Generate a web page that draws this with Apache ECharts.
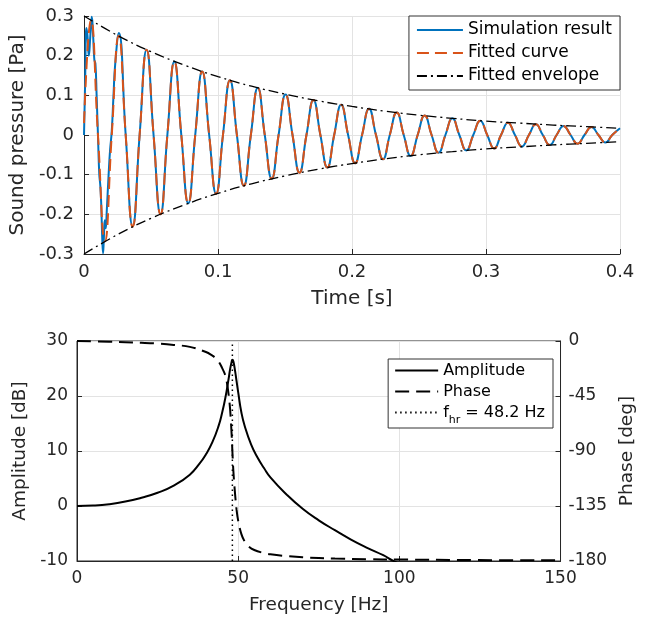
<!DOCTYPE html>
<html><head><meta charset="utf-8">
<script src="https://cdn.jsdelivr.net/npm/echarts@6/dist/echarts.min.js"></script>
<style>html,body{margin:0;padding:0;background:#fff}#c{width:645px;height:617px}</style>
</head><body><div id="c"></div>
<script>
// ---------- Top plot: time signal ----------
const timeTicks = [0, 0.1, 0.2, 0.3, 0.4];
const pressureTicks = [-0.3, -0.2, -0.1, 0, 0.1, 0.2, 0.3];

// Fitted curve: peaks, zero crossings, troughs
const fitTime = [0, 0.0052, 0.0104, 0.0156, 0.0207, 0.0259, 0.0311, 0.0363, 0.0415, 0.0467,
  0.0519, 0.0571, 0.0622, 0.0674, 0.0726, 0.0778, 0.0830, 0.0882, 0.0934, 0.0986,
  0.1037, 0.1089, 0.1141, 0.1193, 0.1245, 0.1297, 0.1349, 0.1401, 0.1452, 0.1504,
  0.1556, 0.1608, 0.1660, 0.1712, 0.1764, 0.1816, 0.1867, 0.1919, 0.1971, 0.2023,
  0.2075, 0.2127, 0.2179, 0.2231, 0.2282, 0.2334, 0.2386, 0.2438, 0.2490, 0.2542,
  0.2594, 0.2646, 0.2697, 0.2749, 0.2801, 0.2853, 0.2905, 0.2957, 0.3009, 0.3061,
  0.3112, 0.3164, 0.3216, 0.3268, 0.3320, 0.3372, 0.3424, 0.3476, 0.3527, 0.3579,
  0.3631, 0.3683, 0.3735, 0.3787, 0.3839, 0.3891, 0.3942, 0.4000];
const fitValues = [0.03, 0.289, 0, -0.268, 0, 0.250, 0, -0.231, 0, 0.215,
  0, -0.200, 0, 0.185, 0, -0.172, 0, 0.160, 0, -0.148,
  0, 0.138, 0, -0.128, 0, 0.119, 0, -0.110, 0, 0.102,
  0, -0.095, 0, 0.088, 0, -0.082, 0, 0.076, 0, -0.071,
  0, 0.066, 0, -0.061, 0, 0.057, 0, -0.053, 0, 0.049,
  0, -0.045, 0, 0.042, 0, -0.039, 0, 0.036, 0, -0.034,
  0, 0.031, 0, -0.029, 0, 0.027, 0, -0.025, 0, 0.023,
  0, -0.022, 0, 0.020, 0, -0.019, 0, 0.017];

// Simulation: irregular start, then coincides with the fitted curve (from fitTime index 6)
const simEarlyTime = [0, 0.0008, 0.0018, 0.0026, 0.0036, 0.0047, 0.0058, 0.0068, 0.0077, 0.0085,
  0.0094, 0.0104, 0.0114, 0.0121, 0.0128, 0.0136, 0.0142, 0.0148, 0.0155, 0.0162,
  0.0170, 0.0182, 0.0194, 0.0207, 0.0220, 0.0233, 0.0260];
const simEarlyValues = [0, 0.13, 0.27, 0.25, 0.20, 0.25, 0.298, 0.25, 0.19, 0.18,
  0.10, 0.0, -0.10, -0.125, -0.17, -0.26, -0.298, -0.26, -0.215, -0.235,
  -0.19, -0.11, -0.04, 0.01, 0.10, 0.18, 0.257];
const simTailStart = 6;

// Fitted envelope
const envTime = [0, 0.025, 0.05, 0.075, 0.1, 0.125, 0.15, 0.175, 0.2, 0.225, 0.25, 0.275, 0.3, 0.325, 0.35, 0.375, 0.4];
const envUpper = [0.300, 0.251, 0.210, 0.176, 0.147, 0.123, 0.103, 0.086, 0.072, 0.060, 0.050, 0.042, 0.035, 0.030, 0.025, 0.021, 0.017];
const envLower = [-0.300, -0.251, -0.210, -0.176, -0.147, -0.123, -0.103, -0.086, -0.072, -0.060, -0.050, -0.042, -0.035, -0.030, -0.025, -0.021, -0.017];

// ---------- Bottom plot: frequency response ----------
const freqTicks = [0, 50, 100, 150];
const ampTicks = [-10, 0, 10, 20, 30];
const phaseTicks = [-180, -135, -90, -45, 0];

const ampFreq = [0, 5, 10, 15, 20, 25, 30, 35, 38, 40, 42, 44, 45, 46, 47, 47.5, 48, 48.2, 48.5, 49,
  49.5, 50, 51, 52, 54, 56, 58, 60, 65, 70, 75, 80, 85, 90, 95, 98, 100, 110, 120, 130, 140, 150];
const ampDb = [0, 0.08, 0.33, 0.8, 1.5, 2.4, 3.7, 5.7, 7.7, 9.4, 11.6, 14.7, 16.9, 19.6, 23.0, 24.9, 26.3, 26.6, 26.3, 24.7,
  22.7, 20.7, 17.0, 14.6, 11.2, 8.8, 6.9, 5.2, 2.1, -0.5, -2.6, -4.4, -6.1, -7.6, -8.95, -9.95, -10.5, -12.4, -14.3, -15.9, -17.4, -18.8];

const phaseFreq = [0, 10, 20, 25, 30, 35, 40, 42, 43, 44, 45, 46, 46.5, 47, 47.5, 48, 48.2, 48.5, 49, 49.5,
  50, 51, 52, 53, 55, 58, 60, 65, 70, 80, 90, 100, 120, 150];
const phaseDeg = [0, -0.6, -1.5, -2.1, -3.2, -4.8, -9, -12, -14, -17, -22, -28, -34, -43, -56, -78, -90, -106, -124, -138,
  -147, -158, -164, -167.5, -171, -173.5, -174.5, -176, -177, -178, -178.5, -178.8, -179.2, -179.5];

const fhr = 48.2;
const fhrLineAmp = [-10, 30];

// ---------- build ----------
const zip = (a, b) => a.map((x, i) => [x, b[i]]);
const simTime = simEarlyTime.concat(fitTime.slice(simTailStart));
const simValues = simEarlyValues.concat(fitValues.slice(simTailStart));

const FONT = 'DejaVu Sans';
const AX = '#262626';
const GRID = '#e3e3e3';

function valAxis(o) {
  return Object.assign({
    type: 'value',
    axisLine: { show: true, onZero: false, lineStyle: { color: AX, width: 1 } },
    axisTick: { show: true, inside: true, length: 5, lineStyle: { color: AX } },
    splitLine: { show: true, lineStyle: { color: GRID, width: 1 } },
    nameLocation: 'middle',
  }, o);
}

const chart = echarts.init(document.getElementById('c'), null, { renderer: 'canvas' });
const fhrName = 'f_hr = 48.2 Hz';
const noSymbol = { color: 'transparent', borderColor: 'transparent', borderWidth: 0, opacity: 0 };

chart.setOption({
  animation: false,
  backgroundColor: '#fff',
  grid: [
    { left: 84, top: 16, width: 536, height: 238, containLabel: false },
    { left: 77, top: 341, width: 491, height: 220, containLabel: false, show: true, borderColor: AX, borderWidth: 1, backgroundColor: 'transparent' }
  ],
  xAxis: [
    valAxis({ gridIndex: 0, min: timeTicks[0], max: timeTicks[timeTicks.length - 1], interval: 0.1,
      name: 'Time [s]', nameGap: 35, nameTextStyle: { fontFamily: FONT, fontSize: 20, color: AX },
      axisLabel: { fontFamily: FONT, fontSize: 18, color: AX, margin: 9 } }),
    valAxis({ gridIndex: 1, min: freqTicks[0], max: freqTicks[freqTicks.length - 1], interval: 50,
      name: 'Frequency [Hz]', nameGap: 35, nameTextStyle: { fontFamily: FONT, fontSize: 18.5, color: AX },
      axisLabel: { fontFamily: FONT, fontSize: 17, color: AX, margin: 9 } })
  ],
  yAxis: [
    valAxis({ gridIndex: 0, min: pressureTicks[0], max: pressureTicks[pressureTicks.length - 1], interval: 0.1,
      name: 'Sound pressure [Pa]', nameGap: 54, nameTextStyle: { fontFamily: FONT, fontSize: 20, color: AX },
      axisLabel: { fontFamily: FONT, fontSize: 18, color: AX, margin: 10 } }),
    valAxis({ gridIndex: 1, min: ampTicks[0], max: ampTicks[ampTicks.length - 1], interval: 10,
      name: 'Amplitude [dB]', nameGap: 42, nameTextStyle: { fontFamily: FONT, fontSize: 18.5, color: AX },
      axisLabel: { fontFamily: FONT, fontSize: 17, color: AX, margin: 9 } }),
    valAxis({ gridIndex: 1, position: 'right', min: phaseTicks[0], max: phaseTicks[phaseTicks.length - 1], interval: 45,
      name: 'Phase [deg]', nameGap: 57, nameTextStyle: { fontFamily: FONT, fontSize: 18.5, color: AX },
      splitLine: { show: false },
      axisLabel: { fontFamily: FONT, fontSize: 17, color: AX, margin: 8 } })
  ],
  legend: [
    {
      orient: 'vertical', right: 25, top: 16,
      data: ['Simulation result', 'Fitted curve', 'Fitted envelope'],
      itemWidth: 46, itemHeight: 14, itemGap: 5,
      padding: [5, 8, 5, 7],
      itemStyle: noSymbol,
      backgroundColor: '#fff', borderColor: '#333', borderWidth: 1, borderRadius: 0,
      textStyle: { fontFamily: FONT, fontSize: 17, color: '#000', lineHeight: 18 },
      selectedMode: false
    },
    {
      orient: 'vertical', right: 92, top: 359,
      data: ['Amplitude', 'Phase', fhrName],
      itemWidth: 43, itemHeight: 14, itemGap: 4,
      padding: [3, 8, 2, 6],
      itemStyle: noSymbol,
      backgroundColor: '#fff', borderColor: '#333', borderWidth: 1, borderRadius: 0,
      textStyle: {
        fontFamily: FONT, fontSize: 16, color: '#000', lineHeight: 17,
        rich: {
          a: { fontFamily: FONT, fontSize: 16, color: '#000', lineHeight: 17 },
          b: { fontFamily: FONT, fontSize: 11, color: '#000', lineHeight: 17, verticalAlign: 'bottom', padding: [0, 0, -5, 0] }
        }
      },
      formatter: function (name) {
        return name === fhrName ? '{a|f}{b|hr}{a| = 48.2 Hz}' : name;
      },
      selectedMode: false
    }
  ],
  series: [
    { name: 'Simulation result', type: 'line', xAxisIndex: 0, yAxisIndex: 0, data: zip(simTime, simValues),
      symbol: 'none', smooth: 0.5, lineStyle: { color: '#0072BD', width: 2 }, itemStyle: { color: '#0072BD' } },
    { name: 'Fitted curve', type: 'line', xAxisIndex: 0, yAxisIndex: 0, data: zip(fitTime, fitValues),
      symbol: 'none', smooth: 0.5, lineStyle: { color: '#D95319', width: 2, type: [12, 6] }, itemStyle: { color: '#D95319' } },
    { name: 'Fitted envelope', type: 'line', xAxisIndex: 0, yAxisIndex: 0, data: zip(envTime, envUpper),
      symbol: 'none', smooth: 0.4, lineStyle: { color: '#000', width: 1.3, type: [10, 4, 2, 4] }, itemStyle: { color: '#000' } },
    { name: 'Fitted envelope', type: 'line', xAxisIndex: 0, yAxisIndex: 0, data: zip(envTime, envLower),
      symbol: 'none', smooth: 0.4, lineStyle: { color: '#000', width: 1.3, type: [10, 4, 2, 4] }, itemStyle: { color: '#000' } },

    { name: 'Amplitude', type: 'line', xAxisIndex: 1, yAxisIndex: 1, data: zip(ampFreq, ampDb),
      symbol: 'none', smooth: 0.5, clip: true, lineStyle: { color: '#000', width: 2 }, itemStyle: { color: '#000' } },
    { name: 'Phase', type: 'line', xAxisIndex: 1, yAxisIndex: 2, data: zip(phaseFreq, phaseDeg),
      symbol: 'none', smooth: 0.4, clip: true, lineStyle: { color: '#000', width: 2, type: [14, 7] }, itemStyle: { color: '#000' } },
    { name: fhrName, type: 'line', xAxisIndex: 1, yAxisIndex: 1, data: fhrLineAmp.map(v => [fhr, v]),
      symbol: 'none', lineStyle: { color: '#000', width: 1.5, type: [1.5, 3.5] }, itemStyle: { color: '#000' } }
  ]
});
</script></body></html>
